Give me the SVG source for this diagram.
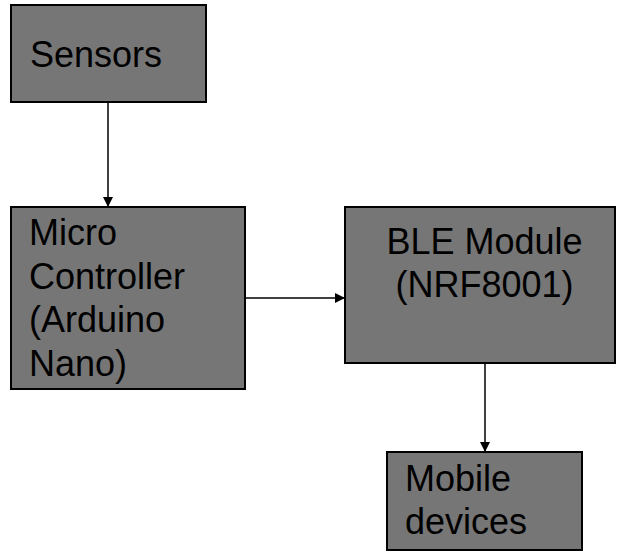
<svg xmlns="http://www.w3.org/2000/svg" width="617" height="551" viewBox="0 0 617 551">
<style>
.box{fill:#767676;stroke:#000;stroke-width:2}
.t{font-family:"Liberation Sans",Arial,sans-serif;font-size:36px;fill:#000}
.c{stroke:#000;stroke-width:1.5;fill:none}
</style>
<defs>
<marker id="ah" viewBox="0 0 10 10" refX="10" refY="5" markerWidth="10" markerHeight="10" markerUnits="userSpaceOnUse" orient="auto">
<path d="M0,0 L10,5 L0,10 z" fill="#000"/>
</marker>
</defs>
<rect width="617" height="551" fill="#fff"/>
<g id="connectors">
<line class="c" x1="108" y1="102" x2="108" y2="207" marker-end="url(#ah)"/>
<line class="c" x1="245" y1="298" x2="345" y2="298" marker-end="url(#ah)"/>
<line class="c" x1="485" y1="363" x2="485" y2="452" marker-end="url(#ah)"/>
</g>
<g id="sensors">
<rect class="box" x="11" y="5" width="195" height="97"/>
<text class="t" x="30" y="67">Sensors</text>
</g>
<g id="micro">
<rect class="box" x="11" y="207" width="234" height="182"/>
<text class="t" x="29" y="245">Micro</text>
<text class="t" x="29" y="289">Controller</text>
<text class="t" x="29" y="332">(Arduino</text>
<text class="t" x="29" y="376">Nano)</text>
</g>
<g id="ble">
<rect class="box" x="345" y="207" width="270" height="156"/>
<text class="t" x="484.5" y="254" text-anchor="middle">BLE Module</text>
<text class="t" x="484.5" y="297" text-anchor="middle">(NRF8001)</text>
</g>
<g id="mobile">
<rect class="box" x="387" y="452" width="195" height="98"/>
<text class="t" x="405" y="491">Mobile</text>
<text class="t" x="405" y="534">devices</text>
</g>
</svg>
